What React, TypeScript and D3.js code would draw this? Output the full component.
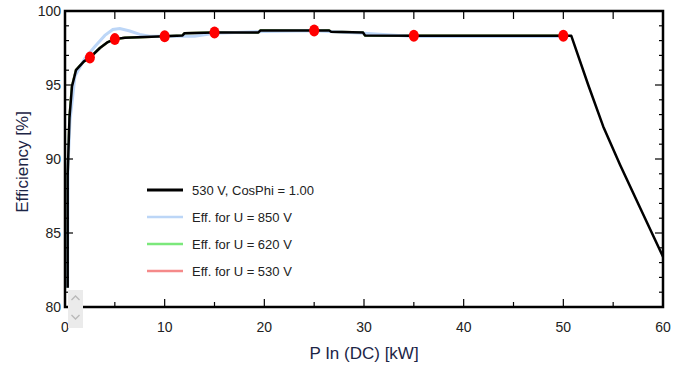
import { useEffect, useRef } from "react";
import * as d3 from "d3";

// kW, efficiency %
const blackLine: [number, number][] = [
  [0.27, 81.3], [0.27, 89.0], [0.45, 92.8], [0.7, 94.9], [1.1, 96.0], [1.9, 96.6],
  [2.5, 96.85], [3.5, 97.5], [4.3, 97.9], [5, 98.1], [6, 98.2], [8, 98.25], [10, 98.3],
  [11.8, 98.35], [12, 98.5], [15, 98.55], [19.4, 98.55], [19.6, 98.68], [26.5, 98.68],
  [26.7, 98.6], [29.9, 98.55], [30.1, 98.35], [35, 98.32], [50, 98.32], [50.8, 98.32],
  [52.5, 95.0], [54, 92.2], [55.7, 89.6], [57.7, 86.7], [60, 83.4],
];
const blueLine: [number, number][] = [
  [0.27, 81.3], [0.3, 89.5], [0.5, 92.6], [1, 95.6], [2, 96.8], [3, 97.6], [4, 98.35],
  [4.8, 98.75], [5.5, 98.82], [6.5, 98.65], [7.5, 98.42], [8.5, 98.3], [10, 98.3], [13, 98.3],
  [15, 98.5], [20, 98.62], [25, 98.66], [30, 98.5], [35, 98.28], [50, 98.28],
];
const greenLine: [number, number][] = blackLine.filter((d) => d[0] <= 50);
const redLine: [number, number][] = blackLine.filter((d) => d[0] <= 50);
const markerX = [2.5, 5, 10, 15, 25, 35, 50];
const markerY = [96.85, 98.1, 98.3, 98.55, 98.68, 98.32, 98.32];
const legendLabels = ["530 V, CosPhi = 1.00", "Eff. for U = 850 V", "Eff. for U = 620 V", "Eff. for U = 530 V"];
const legendColors = ["#000000", "#bcd6f7", "#7be87b", "#f58a8a"];
const xTicks = [0, 10, 20, 30, 40, 50, 60];
const yTicks = [80, 85, 90, 95, 100];

export default function App() {
  const svgRef = useRef<SVGSVGElement | null>(null);
  const width = 681;
  const height = 370;
  const left = 65, right = 663, top = 11, bottom = 307;
  const font = "'Liberation Sans', Arial, sans-serif";

  useEffect(() => {
    const x = d3.scaleLinear().domain([0, 60]).range([left, right]);
    const y = d3.scaleLinear().domain([80, 100]).range([bottom, top]);

    const svg = d3.select(svgRef.current);
    svg.selectAll("*").remove();

    const plot = svg.append("g");
    const line = d3.line<[number, number]>().x((d) => x(d[0])).y((d) => y(d[1]));

    // ticks inward
    const tickG = svg.append("g").attr("stroke", "#000").attr("stroke-width", 1.2);
    d3.range(0, 61, 5).forEach((v) => {
      const len = v % 10 === 0 ? 8 : 5;
      tickG.append("line").attr("x1", x(v)).attr("x2", x(v)).attr("y1", bottom).attr("y2", bottom - len);
      tickG.append("line").attr("x1", x(v)).attr("x2", x(v)).attr("y1", top).attr("y2", top + 8);
    });
    d3.range(80, 101, 1).forEach((v) => {
      const len = v % 5 === 0 ? 8 : 4;
      tickG.append("line").attr("x1", left).attr("x2", left + len).attr("y1", y(v)).attr("y2", y(v));
      tickG.append("line").attr("x1", right).attr("x2", right - len).attr("y1", y(v)).attr("y2", y(v));
    });

    plot.append("path").datum(redLine).attr("d", line).attr("fill", "none")
      .attr("stroke", legendColors[3]).attr("stroke-width", 2.5);
    plot.append("path").datum(greenLine).attr("d", line).attr("fill", "none")
      .attr("stroke", legendColors[2]).attr("stroke-width", 2.5);
    plot.append("path").datum(blueLine).attr("d", line).attr("fill", "none")
      .attr("stroke", legendColors[1]).attr("stroke-width", 3);
    plot.append("path").datum(blackLine).attr("d", line).attr("fill", "none")
      .attr("stroke", "#000").attr("stroke-width", 2.5).attr("stroke-linejoin", "round");

    plot.selectAll(".dot").data(markerX).enter().append("ellipse")
      .attr("cx", (d) => x(d)).attr("cy", (_d, i) => y(markerY[i]))
      .attr("rx", 5).attr("ry", 6).attr("fill", "#ff0000");

    // frame
    svg.append("rect").attr("x", left).attr("y", top).attr("width", right - left)
      .attr("height", bottom - top).attr("fill", "none").attr("stroke", "#000").attr("stroke-width", 2.5);

    // tick labels
    svg.append("g").selectAll("text").data(xTicks).enter().append("text")
      .attr("x", (d) => x(d)).attr("y", bottom + 25).attr("text-anchor", "middle")
      .attr("font-family", font).attr("font-size", 14).attr("fill", "#222").text((d) => d);
    svg.append("g").selectAll("text").data(yTicks).enter().append("text")
      .attr("x", left - 4).attr("y", (d) => y(d) + 5).attr("text-anchor", "end")
      .attr("font-family", font).attr("font-size", 14).attr("fill", "#222").text((d) => d);

    // scroll widget
    const sw = svg.append("g");
    sw.append("rect").attr("x", 68).attr("y", 290).attr("width", 15).attr("height", 38).attr("fill", "#ebebeb");
    sw.append("path").attr("d", "M71.5,300 L75.5,296 L79.5,300").attr("fill", "none").attr("stroke", "#b8b8b8").attr("stroke-width", 1.3);
    sw.append("path").attr("d", "M71.5,315 L75.5,319 L79.5,315").attr("fill", "none").attr("stroke", "#b8b8b8").attr("stroke-width", 1.3);

    // axis titles
    svg.append("text").attr("x", 364).attr("y", 359).attr("text-anchor", "middle")
      .attr("font-family", font).attr("font-size", 17).attr("fill", "#1c2546").text("P In (DC) [kW]");
    svg.append("text").attr("transform", "translate(28,162) rotate(-90)").attr("text-anchor", "middle")
      .attr("font-family", font).attr("font-size", 17).attr("fill", "#1c2546").text("Efficiency [%]");

    // legend
    const lg = svg.append("g");
    legendLabels.forEach((lab, i) => {
      const ly = 190 + i * 27;
      lg.append("line").attr("x1", 147).attr("x2", 183).attr("y1", ly).attr("y2", ly)
        .attr("stroke", legendColors[i]).attr("stroke-width", i === 0 ? 3 : 2.5);
      lg.append("text").attr("x", 192).attr("y", ly + 5).attr("font-family", font)
        .attr("font-size", 13).attr("fill", "#222").text(lab);
    });
  }, []);

  return (
    <svg ref={svgRef} width={width} height={height}
      style={{ position: "absolute", left: 0, top: 0, background: "#fff" }} />
  );
}
